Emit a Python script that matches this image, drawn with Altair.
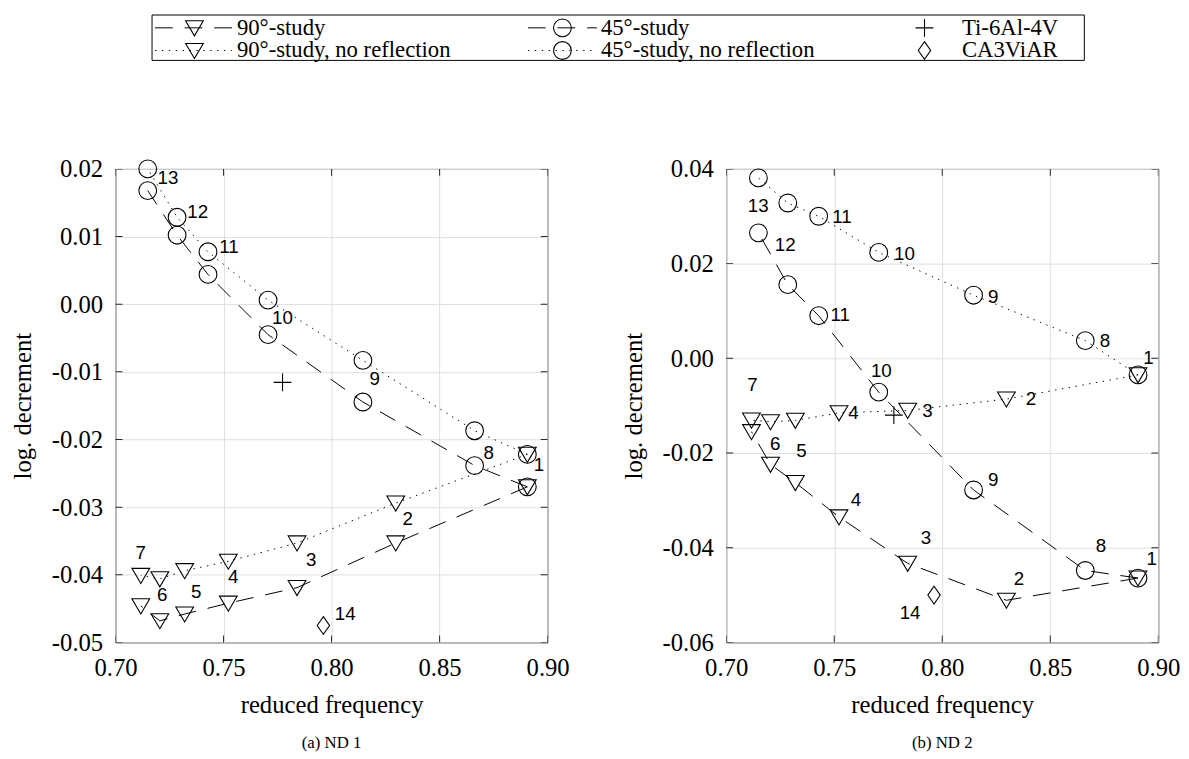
import altair as alt
import pandas as pd

# ---------------- data ----------------
series = ["90°-study", "90°-study, no reflection", "45°-study", "45°-study, no reflection"]
refs = ["Ti-6Al-4V", "CA3ViAR"]

tri_ids = [1, 2, 3, 4, 5, 6, 7]
circ_ids = [1, 8, 9, 10, 11, 12, 13]
freq_tri = [0.8906, 0.8297, 0.7840, 0.7522, 0.7320, 0.7205, 0.7117]
freq_circ = [0.8906, 0.8662, 0.8145, 0.7706, 0.7428, 0.7285, 0.7149]

nd1_90 = [-0.0270, -0.0353, -0.0419, -0.0442, -0.0458, -0.0468, -0.0446]
nd1_90_nr = [-0.0222, -0.0294, -0.0353, -0.0380, -0.0394, -0.0406, -0.0401]
nd1_45 = [-0.0270, -0.02385, -0.01446, -0.0045, 0.0044, 0.0102, 0.0168]
nd1_45_nr = [-0.0222, -0.0187, -0.0083, 0.0006, 0.00775, 0.01285, 0.0200]

nd2_90 = [-0.0464, -0.0511, -0.0433, -0.0335, -0.02625, -0.0224, -0.0155]
nd2_90_nr = [-0.0035, -0.0086, -0.0110, -0.01152, -0.0131, -0.0134, -0.01306]
nd2_45 = [-0.0464, -0.0448, -0.0278, -0.00715, 0.0090, 0.01556, 0.0265]
nd2_45_nr = [-0.0035, 0.00375, 0.01333, 0.02236, 0.0300, 0.0328, 0.0381]

ti_freq = [0.7773, 0.7776]
ti_ld = [-0.01155, -0.0120]
ca_freq = [0.7962, 0.7962]
ca_ld = [-0.0475, -0.0500]

# point-number annotations (text, freq, log. decrement)
nd1_lab_text = ["13", "12", "11", "10", "9", "8", "1", "2", "3", "4", "5", "6", "7", "14"]
nd1_lab_freq = [0.7243, 0.7380, 0.7525, 0.7773, 0.8200, 0.8727, 0.8960, 0.8352, 0.7906, 0.7545,
                0.7373, 0.7216, 0.7117, 0.8063]
nd1_lab_ld = [0.0187, 0.01358, 0.00838, -0.00207, -0.01106, -0.0220, -0.02385, -0.03173, -0.0378,
              -0.04033, -0.04256, -0.04305, -0.03683, -0.04582]

nd2_lab_text = ["13", "12", "11", "10", "9", "8", "1", "11", "10", "9", "8", "1", "7", "6", "5",
                "4", "3", "2", "4", "3", "2", "14"]
nd2_lab_freq = [0.7148, 0.7273, 0.7536, 0.7825, 0.8236, 0.8753, 0.8954, 0.7528, 0.7718, 0.8236,
                0.8735, 0.8969, 0.7122, 0.7227, 0.7348, 0.7589, 0.7932, 0.8411, 0.7601, 0.7924,
                0.8355, 0.7851]
nd2_lab_ld = [0.03208, 0.0239, 0.0298, 0.0220, 0.0130, 0.0036, 0.0000, 0.00917, -0.00278, -0.02577,
              -0.03965, -0.04244, -0.00556, -0.01813, -0.01965, -0.01152, -0.0111, -0.00854,
              -0.02993, -0.03806, -0.0466, -0.05381]

x_ticks = [0.70, 0.75, 0.80, 0.85, 0.90]
nd1_y_ticks = [-0.05, -0.04, -0.03, -0.02, -0.01, 0.00, 0.01, 0.02]
nd2_y_ticks = [-0.06, -0.04, -0.02, 0.00, 0.02, 0.04]

# ---------------- styles ----------------
TRI = "M-1,-0.8L1,-0.8L0,0.9Z"
PLUS = "M-1,0L1,0M0,-1L0,1"
DIAM = "M0,-1L0.7,0L0,1L-0.7,0Z"
shape_scale = alt.Scale(domain=series + refs,
                        range=[TRI, TRI, "circle", "circle", PLUS, DIAM])
size_scale = alt.Scale(domain=series + refs, range=[324, 324, 324, 324, 256, 441])
DASHED = [18, 12]
DOTTED = [1.4, 5.6]
dash_scale = alt.Scale(domain=series, range=[DASHED, DOTTED, DASHED, DOTTED])

SERIF = "Liberation Serif"
SANS = "Liberation Sans"
YLAB = "replace(format(datum.value, '.2f'), '\u2212', '-')"
FRAME = "#262626"


def panel_df(v90, v90nr, v45, v45nr):
    rows = []
    for name, ids, fr, vals in [(series[0], tri_ids, freq_tri, v90),
                                (series[1], tri_ids, freq_tri, v90nr),
                                (series[2], circ_ids, freq_circ, v45),
                                (series[3], circ_ids, freq_circ, v45nr)]:
        for i, f, v in zip(ids, fr, vals):
            rows.append({"series": name, "idx": i, "freq": f, "ld": v})
    return pd.DataFrame(rows)


def make_panel(df, ref_pts, lab_df, ydom, yticks, caption):
    xenc = alt.X("freq:Q", scale=alt.Scale(domain=[0.70, 0.90], nice=False, zero=False),
                 axis=alt.Axis(values=x_ticks, format=".2f", title="reduced frequency",
                               ticks=False, domain=False, labelPadding=13, titlePadding=13,
                               labelFlush=False))
    yenc = alt.Y("ld:Q", scale=alt.Scale(domain=ydom, nice=False, zero=False),
                 axis=alt.Axis(values=yticks, labelExpr=YLAB, title="log. decrement",
                               ticks=False, domain=False, labelPadding=13, titlePadding=16,
                               labelFlush=False))
    # inward tick marks on all four sides of the box
    tick_y = pd.DataFrame([{"freq": fx, "ld": t} for fx in (0.70, 0.90) for t in yticks])
    tick_x = pd.DataFrame([{"freq": t, "ld": fy} for fy in ydom for t in x_ticks])
    ty = alt.Chart(tick_y).mark_tick(orient="horizontal", size=14, thickness=1, color=FRAME,
                                     clip=True, opacity=1).encode(x="freq:Q", y="ld:Q")
    tx = alt.Chart(tick_x).mark_tick(orient="vertical", size=14, thickness=1, color=FRAME,
                                     clip=True, opacity=1).encode(x="freq:Q", y="ld:Q")
    lines = alt.Chart(df).mark_line(color="black", strokeWidth=1).encode(
        x=xenc, y=yenc, detail="series:N", order="idx:Q",
        strokeDash=alt.StrokeDash("series:N", scale=dash_scale, legend=None))
    pts = alt.Chart(pd.concat([df, ref_pts])).mark_point(
        filled=False, color="black", strokeWidth=1.1, opacity=1).encode(
        x="freq:Q", y="ld:Q",
        shape=alt.Shape("series:N", scale=shape_scale, legend=None),
        size=alt.Size("series:N", scale=size_scale, legend=None))
    labs = alt.Chart(lab_df).mark_text(font=SANS, fontSize=19, color="black",
                                       align="center", baseline="middle").encode(
        x="freq:Q", y="ld:Q", text="txt:N")
    return alt.layer(lines, ty, tx, pts, labs).properties(
        width=438, height=480,
        title=alt.TitleParams(caption, orient="bottom", font=SERIF, fontSize=17,
                              fontWeight="normal", color="black", offset=18, anchor="middle"))


ref1 = pd.DataFrame({"series": refs, "idx": [0, 0], "freq": [ti_freq[0], ca_freq[0]],
                     "ld": [ti_ld[0], ca_ld[0]]})
ref2 = pd.DataFrame({"series": refs, "idx": [0, 0], "freq": [ti_freq[1], ca_freq[1]],
                     "ld": [ti_ld[1], ca_ld[1]]})
lab1 = pd.DataFrame({"txt": nd1_lab_text, "freq": nd1_lab_freq, "ld": nd1_lab_ld})
lab2 = pd.DataFrame({"txt": nd2_lab_text, "freq": nd2_lab_freq, "ld": nd2_lab_ld})

left = make_panel(panel_df(nd1_90, nd1_90_nr, nd1_45, nd1_45_nr), ref1, lab1,
                  [-0.05, 0.02], nd1_y_ticks, "(a) ND 1")
right = make_panel(panel_df(nd2_90, nd2_90_nr, nd2_45, nd2_45_nr), ref2, lab2,
                   [-0.06, 0.04], nd2_y_ticks, "(b) ND 2")

# ---------------- legend (own box above the panels) ----------------
ORIG = 110                      # page x of the legend chart origin
LW, LH = 1100 - ORIG, 46
BOX_L, BOX_R = 147 - ORIG, 1092 - ORIG
ROW_Y = [13, 36]
COL_LINE = [(150 - ORIG, 228 - ORIG), (528 - ORIG, 598 - ORIG), None]
COL_MARK = [190 - ORIG, 563 - ORIG, 930 - ORIG]
COL_TEXT = [233 - ORIG, 602 - ORIG, 968 - ORIG]
leg_names = [series[0], series[1], series[2], series[3], refs[0], refs[1]]
leg_cols = [0, 0, 1, 1, 2, 2]
leg_rows = [0, 1, 0, 1, 0, 1]

leg_rows_data = []
for n, c, r in zip(leg_names, leg_cols, leg_rows):
    d = {"series": n, "ly": ROW_Y[r], "mx": COL_MARK[c], "tx": COL_TEXT[c]}
    if COL_LINE[c] is not None:
        d["x0"], d["x1"] = COL_LINE[c]
    leg_rows_data.append(d)
leg_df = pd.DataFrame(leg_rows_data)
lx = alt.Scale(domain=[0, LW], nice=False, zero=False)
ly = alt.Scale(domain=[LH, 0], nice=False, zero=False)

leg_box = alt.Chart(pd.DataFrame({"a": [BOX_L], "b": [BOX_R], "c": [0], "d": [LH]})).mark_rect(
    fillOpacity=0, stroke="black", strokeWidth=1).encode(
    x=alt.X("a:Q", scale=lx, axis=None), x2="b:Q",
    y=alt.Y("c:Q", scale=ly, axis=None), y2="d:Q")
leg_lines = alt.Chart(leg_df.dropna()).mark_rule(color="black", strokeWidth=1).encode(
    x=alt.X("x0:Q", scale=lx, axis=None), x2="x1:Q",
    y=alt.Y("ly:Q", scale=ly, axis=None),
    strokeDash=alt.StrokeDash("series:N", scale=dash_scale, legend=None))
leg_pts = alt.Chart(leg_df).mark_point(filled=False, color="black", strokeWidth=1.1,
                                       opacity=1).encode(
    x=alt.X("mx:Q", scale=lx, axis=None), y=alt.Y("ly:Q", scale=ly, axis=None),
    shape=alt.Shape("series:N", scale=shape_scale, legend=None),
    size=alt.Size("series:N", scale=size_scale, legend=None))
leg_txt = alt.Chart(leg_df).mark_text(font=SERIF, fontSize=23, color="black", align="left",
                                      baseline="middle").encode(
    x=alt.X("tx:Q", scale=lx, axis=None), y=alt.Y("ly:Q", scale=ly, axis=None),
    text="series:N")
legend = alt.layer(leg_box, leg_lines, leg_pts, leg_txt).properties(
    width=LW, height=LH, view=alt.ViewBackground(stroke="transparent"))

chart = alt.vconcat(legend, alt.hconcat(left, right, spacing=51), spacing=94).properties(
    padding={"left": 2, "top": 1, "right": 0, "bottom": 0}, background="white"
).configure_view(stroke=FRAME, strokeWidth=1).configure_axis(
    grid=True, gridColor="#dedede", gridWidth=1,
    labelFont=SERIF, labelFontSize=25, labelColor="black",
    titleFont=SERIF, titleFontSize=25, titleFontWeight="normal", titleColor="black"
).resolve_scale(shape="shared")

chart.save("out.html", embed_options={"renderer": "svg", "actions": False})
